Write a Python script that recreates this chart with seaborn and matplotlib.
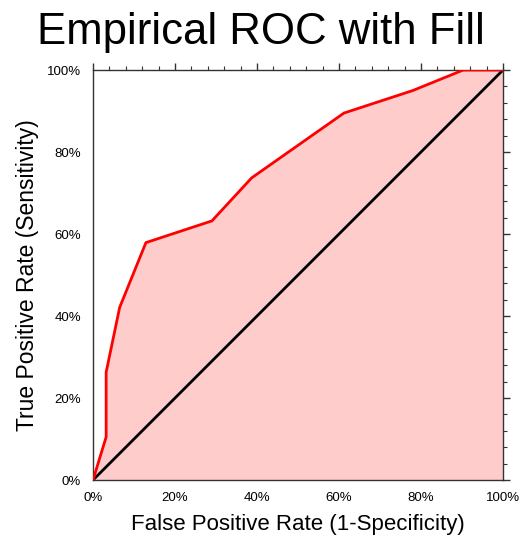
import numpy as np
import pandas as pd
import matplotlib
matplotlib.use("Agg")
import matplotlib.pyplot as plt
from matplotlib.ticker import MultipleLocator, PercentFormatter
import seaborn as sns

# ROC curve points (percent)
fpr = [0, 3.2, 3.2, 6.5, 12.9, 29.0, 38.7, 61.2, 78.0, 90.3, 100]
tpr = [0, 10.5, 26.3, 42.1, 57.9, 63.2, 73.7, 89.5, 95.0, 100, 100]
diag = [0, 100]

roc = pd.DataFrame({"fpr": fpr, "tpr": tpr})
ref = pd.DataFrame({"fpr": diag, "tpr": diag})

sns.set_style("white")
plt.rcParams["font.family"] = ["Liberation Sans", "DejaVu Sans"]
plt.rcParams["text.color"] = "black"
plt.rcParams["axes.labelcolor"] = "black"

fig = plt.figure(figsize=(5.22, 5.37), dpi=100)
ax = fig.add_axes([0.1782, 0.1061, 0.7854, 0.7635])

ax.fill_between(roc["fpr"], roc["tpr"], 0, color="#FFCCCC", linewidth=0, zorder=1)
sns.lineplot(data=roc, x="fpr", y="tpr", sort=False, estimator=None,
             color="#FF0000", linewidth=2, ax=ax, zorder=3)
sns.lineplot(data=ref, x="fpr", y="tpr", estimator=None,
             color="black", linewidth=2, ax=ax, zorder=2)

ax.set_xlim(0, 100)
ax.set_ylim(0, 100)
ax.xaxis.set_major_locator(MultipleLocator(20))
ax.yaxis.set_major_locator(MultipleLocator(20))
ax.xaxis.set_minor_locator(MultipleLocator(4))
ax.yaxis.set_minor_locator(MultipleLocator(4))
ax.xaxis.set_major_formatter(PercentFormatter(decimals=0))
ax.yaxis.set_major_formatter(PercentFormatter(decimals=0))
ax.tick_params(which="both", direction="out", top=True, right=True,
               labeltop=False, labelright=False, color="#333333",
               labelsize=9.5, labelcolor="black")
ax.tick_params(which="major", length=5, width=1)
ax.tick_params(which="minor", length=3, width=0.8)
for s in ax.spines.values():
    s.set_color("#333333")
    s.set_linewidth(1)

ax.set_xlabel("False Positive Rate (1-Specificity)", fontsize=16, labelpad=7)
ax.set_ylabel("True Positive Rate (Sensitivity)", fontsize=16.5, labelpad=6)
fig.suptitle("Empirical ROC with Fill", fontsize=31.5, x=0.5, y=0.978, va="top")

fig.savefig("out.png", dpi=100)
